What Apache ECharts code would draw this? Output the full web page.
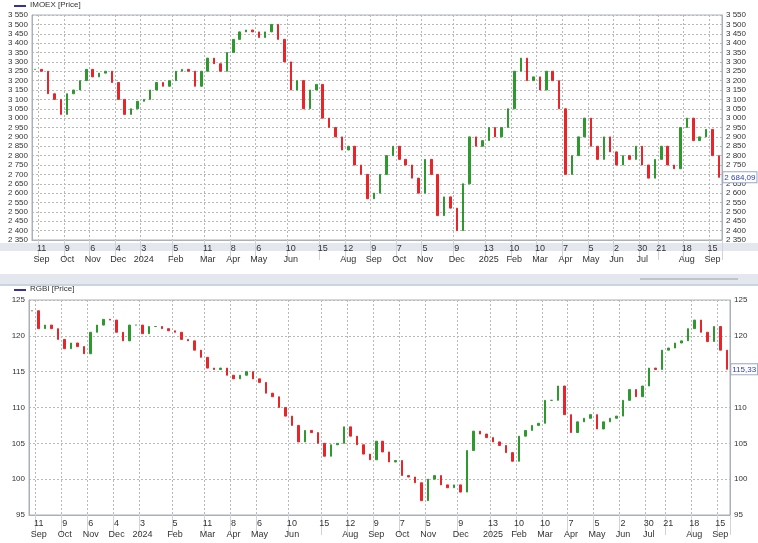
<!DOCTYPE html>
<html><head><meta charset="utf-8">
<script src="https://cdn.jsdelivr.net/npm/echarts@6/dist/echarts.min.js"></script>
<style>html,body{margin:0;padding:0;background:#fff}#c{width:758px;height:543px}</style>
</head><body><div id="c"></div>
<script>
// weekly closes, weeks starting Mon 2023-09-04
const startDate = '2023-09-04';
const imoexClose = [
 3260,3250,3130,3100, 3020,3130,3150,3200,3260, 3220,3240,3250,3190, 3100,3020,3050,3090,
 3100,3150,3190,3170,3200, 3250,3260,3250,3170, 3250,3320,3290,3250, 3350,3420,3460,3470,3460,
 3430,3460,3500,3420, 3300,3150,3200,3050, 3150,3180,3000,2950,2900, 2830,2850,2750,2700,
 2570,2600,2700,2800,2850, 2780,2750,2680,2600, 2780,2700,2480,2580, 2520,2400,2650,2900,2850,
 2880,2950,2900,2950, 3050,3250,3320,3200, 3220,3150,3250,3200,3050, 2700,2800,2900,3000,
 2850,2780,2900,2820, 2750,2800,2780,2850,2750, 2680,2780,2850,2750, 2730,2950,3000,2880,
 2900,2940,2800,2684.09];
const rgbiClose = [
 123.5,121,121.5,121, 119.5,118.2,119,118.5,117.5, 120.5,121.5,122.3,122.2, 120.5,119.3,121.5,121.5,
 120.3,121.3,121.3,121,120.7, 120.5,119.5,119.3,118, 117,115.5,115.3,115.5, 114.5,114,114.5,115,114,
 113.5,112,111.5,110, 108.8,107.5,105.2,106.8, 106.5,105,103.2,104.8,105, 107.3,106,104.8,103.5,
 102.7,105.3,103.8,102.4,102.6, 100.5,100.3,99.5,97, 100,100.5,99.2,98.8, 99.2,98.2,104,106.7,106.3,
 105.8,105.2,104.7,103.7, 102.5,106,106.8,107.5, 107.8,111,111,113,109, 106.5,108,108.5,109,
 107,108,108.5,108.8, 111,112.5,111.5,113,115.5, 115.3,118,118.3,119, 119.3,121,122.2,120.5,
 119.2,121.3,118,115.33];
// tick labels: week key -> [day, month row]
const tickLabels = {
 '2023-09-11':['11','Sep'],'2023-10-09':['9','Oct'],'2023-11-06':['6','Nov'],'2023-12-04':['4','Dec'],
 '2024-01-01':['3','2024'],'2024-02-05':['5','Feb'],'2024-03-11':['11','Mar'],'2024-04-08':['8','Apr'],
 '2024-05-06':['6','May'],'2024-06-10':['10','Jun'],'2024-07-15':['15',''],'2024-08-12':['12','Aug'],
 '2024-09-09':['9','Sep'],'2024-10-07':['7','Oct'],'2024-11-04':['5','Nov'],'2024-12-09':['9','Dec'],
 '2025-01-13':['13','2025'],'2025-02-10':['10','Feb'],'2025-03-10':['10','Mar'],'2025-04-07':['7','Apr'],
 '2025-05-05':['5','May'],'2025-06-02':['2','Jun'],'2025-06-30':['30','Jul'],'2025-07-21':['21',''],
 '2025-08-18':['18','Aug'],'2025-09-15':['15','Sep']};

const dates = [];
{ const d0 = new Date(startDate+'T00:00:00Z');
  for (let i=0;i<imoexClose.length;i++){ const d=new Date(d0.getTime()+i*7*864e5); dates.push(d.toISOString().slice(0,10)); } }
function ohlc(cl){ return cl.map((c,i)=>{ const o = i? cl[i-1] : c; return [o,c,Math.min(o,c),Math.max(o,c)]; }); }
const fmtK = v => String(v).replace(/\B(?=(\d{3})+(?!\d))/g,' ');
const fmtLast = v => fmtK(Math.floor(v)) + ',' + (v.toFixed(2).split('.')[1]);
const isTick = (i,v) => !!tickLabels[v];
const grey='#aab0b8';
function xAxis(gi){ return {type:'category',gridIndex:gi,data:dates,boundaryGap:true,
  axisLine:{lineStyle:{color:grey}},axisTick:{show:true,interval:isTick,length:20,lineStyle:{color:'#d0d4da'}},
  axisLabel:{interval:isTick,margin:3,color:'#333',fontSize:9,fontFamily:'Arial',lineHeight:11,
    formatter:v=>tickLabels[v]?tickLabels[v][0]+'\n'+tickLabels[v][1]:''},
  splitLine:{show:true,interval:isTick,lineStyle:{color:'#b8b8b8',type:[2,2]}}}; }
function yAxes(gi,min,max,iv,fmt){ const base={type:'value',gridIndex:gi,min,max,interval:iv,
  axisLine:{show:true,lineStyle:{color:grey}},axisTick:{show:false},
  axisLabel:{color:'#333',fontSize:8,fontFamily:'Arial',formatter:fmt,margin:4},
  splitLine:{show:true,lineStyle:{color:'#b8b8b8',type:[2,2]}}};
  return [Object.assign({},base,{position:'left'}),Object.assign({},base,{position:'right',splitLine:{show:false}})]; }
function cs(gi,cl,lab){ return {type:'candlestick',xAxisIndex:gi,yAxisIndex:gi*2,data:ohlc(cl),barWidth:2,
  itemStyle:{color:'#2e9a2e',color0:'#e8262a',borderColor:'#2e9a2e',borderColor0:'#e8262a',borderWidth:1},
  markPoint:{symbol:'rect',symbolSize:1,silent:true,itemStyle:{color:'rgba(0,0,0,0)'},
    data:[{coord:[dates[dates.length-1],cl[cl.length-1]],value:lab}],
    label:{show:true,position:'right',distance:4,formatter:()=>lab,color:'#3344aa',fontSize:8,fontFamily:'Arial',
      backgroundColor:'#fff',borderColor:'#9aa6c8',borderWidth:1,padding:[1,1]}}}; }
const chart = echarts.init(document.getElementById('c'));
chart.setOption({animation:false,backgroundColor:'#fff',
 graphic:[
  {type:'rect',shape:{x:0,y:243,width:758,height:8},style:{fill:'#e4e8ee'}},
  {type:'rect',shape:{x:0,y:274,width:758,height:12},style:{fill:'#e4e8ee'}},
  {type:'rect',shape:{x:0,y:284,width:758,height:2},style:{fill:'#c9d3e2'}},
  {type:'line',shape:{x1:640,y1:279,x2:738,y2:279},style:{stroke:'#9aa0a8',lineWidth:1}},
  {type:'line',shape:{x1:14,y1:6,x2:26,y2:6},style:{stroke:'#333399',lineWidth:2}},
  {type:'text',left:30,top:1,style:{text:'IMOEX [Price]',fontSize:8,fontFamily:'Arial',fill:'#333'}},
  {type:'line',shape:{x1:14,y1:290,x2:26,y2:290},style:{stroke:'#333399',lineWidth:2}},
  {type:'text',left:30,top:285,style:{text:'RGBI [Price]',fontSize:8,fontFamily:'Arial',fill:'#333'}}
 ],
 grid:[{left:32,right:36,top:15,height:225,show:true,borderColor:grey,borderWidth:1},
       {left:29,right:28,top:300,height:215,show:true,borderColor:grey,borderWidth:1}],
 xAxis:[xAxis(0),xAxis(1)],
 yAxis:[...yAxes(0,2350,3550,50,fmtK),...yAxes(1,95,125,5,v=>v)],
 series:[cs(0,imoexClose,fmtLast(imoexClose[imoexClose.length-1])),
         cs(1,rgbiClose,fmtLast(rgbiClose[rgbiClose.length-1]))]
});
</script></body></html>
